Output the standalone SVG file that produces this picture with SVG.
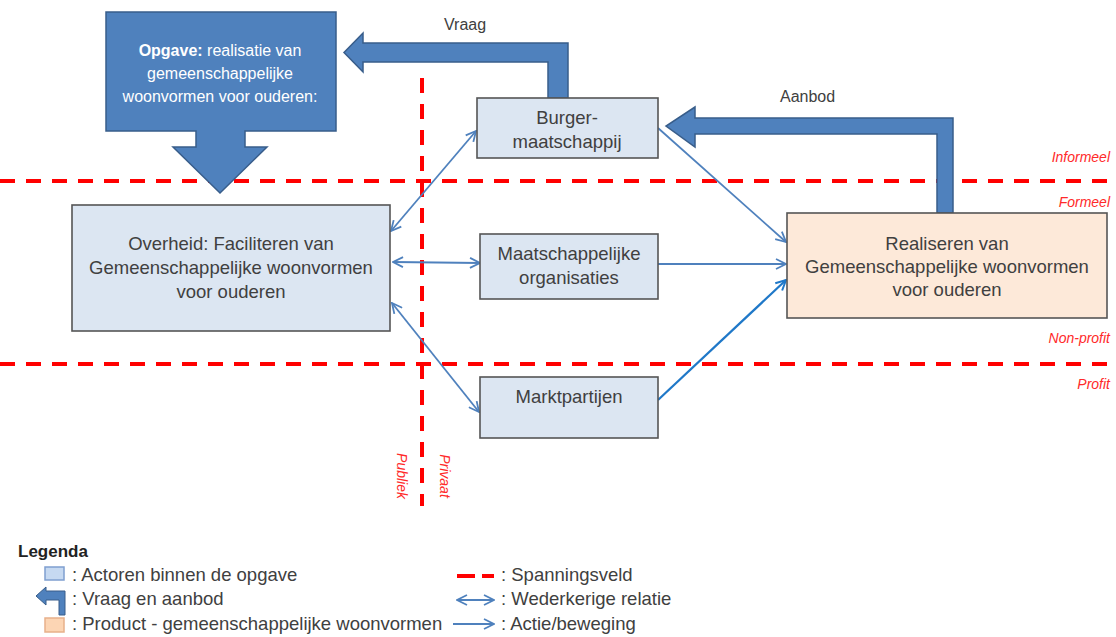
<svg xmlns="http://www.w3.org/2000/svg" width="1116" height="637" viewBox="0 0 1116 637">
  <defs>
    <style>
      text { font-family: "Liberation Sans", Arial, sans-serif; }
      .box { fill: #dce6f2; stroke: #555555; stroke-width: 1.6; }
      .prod { fill: #fde9d9; stroke: #555555; stroke-width: 1.6; }
      .lbl { font-size: 18.5px; fill: #404040; text-anchor: middle; }
      .zone { font-size: 14px; font-style: italic; fill: #ff2a2a; text-anchor: end; }
      .axis { font-size: 14px; font-style: italic; fill: #ff2a2a; text-anchor: middle; }
      .split { stroke: #ff0000; stroke-width: 4; stroke-dasharray: 15 11; fill: none; }
      .block { fill: #4f81bd; stroke: #385d8a; stroke-width: 1.5; stroke-linejoin: miter; }
      .rel { stroke: #4f81bd; stroke-width: 1.8; fill: none; }
      .act { stroke: #1f78c8; stroke-width: 2.2; fill: none; }
      .flow { font-size: 16px; fill: #404040; }
      .leg { font-size: 18.5px; fill: #404040; }
    </style>
    <marker id="open" viewBox="0 0 12 12" refX="11" refY="6" markerWidth="12" markerHeight="12" markerUnits="userSpaceOnUse" orient="auto-start-reverse">
      <path d="M1 1 L11 6 L1 11" fill="none" stroke="#4f81bd" stroke-width="1.8"/>
    </marker>
    <marker id="openAct" viewBox="0 0 12 12" refX="11" refY="6" markerWidth="12" markerHeight="12" markerUnits="userSpaceOnUse" orient="auto">
      <path d="M1 1 L11 6 L1 11" fill="none" stroke="#1f78c8" stroke-width="2"/>
    </marker>
  </defs>

  <!-- tension fields -->
  <g id="spanningsveld">
    <line class="split" x1="0" y1="181" x2="1116" y2="181"/>
    <line class="split" x1="0" y1="364" x2="1116" y2="364"/>
    <line class="split" x1="422" y1="78" x2="422" y2="506"/>
    <text class="zone" x="1110" y="162">Informeel</text>
    <text class="zone" x="1110" y="207">Formeel</text>
    <text class="zone" x="1110" y="343">Non-profit</text>
    <text class="zone" x="1110" y="389">Profit</text>
    <text class="axis" transform="translate(397 476) rotate(90)">Publiek</text>
    <text class="axis" transform="translate(440 476) rotate(90)">Privaat</text>
  </g>

  <!-- demand / supply block arrows -->
  <g id="vraag">
    <path class="block" d="M548 98 L548 62 L363 62 L363 72 L344 52.5 L363 33 L363 43 L568 43 L568 98 Z"/>
    <text class="flow" x="444" y="30">Vraag</text>
  </g>
  <g id="aanbod">
    <path class="block" d="M937 213 L937 134 L695 134 L695 147 L666 126 L695 107 L695 118 L953 118 L953 213 Z"/>
    <text class="flow" x="780" y="102">Aanbod</text>
  </g>

  <!-- task callout -->
  <g id="opgave">
    <path class="block" d="M106 12 L336 12 L336 131 L245 131 L245 147 L267 147 L220 193 L173 147 L196 147 L196 131 L106 131 Z"/>
    <text x="220" y="56" font-size="16" fill="#ffffff" text-anchor="middle"><tspan font-weight="bold">Opgave:</tspan> realisatie van</text>
    <text x="220" y="79" font-size="16" fill="#ffffff" text-anchor="middle">gemeenschappelijke</text>
    <text x="220" y="102" font-size="16" fill="#ffffff" text-anchor="middle">woonvormen voor ouderen:</text>
  </g>

  <!-- connectors -->
  <g id="connectors">
    <line class="rel" x1="391" y1="231" x2="476" y2="131" marker-start="url(#open)" marker-end="url(#open)"/>
    <line class="rel" x1="393" y1="262" x2="480" y2="263" marker-start="url(#open)" marker-end="url(#open)"/>
    <line class="rel" x1="392" y1="303" x2="479" y2="412" marker-start="url(#open)" marker-end="url(#open)"/>
    <line class="rel" x1="658" y1="128" x2="786" y2="242" marker-end="url(#open)"/>
    <line class="rel" x1="658" y1="264" x2="786" y2="264" marker-end="url(#open)"/>
    <line class="act" x1="658" y1="400" x2="786" y2="280" marker-end="url(#openAct)"/>
  </g>

  <!-- actors -->
  <g id="overheid">
    <rect class="box" x="72" y="205" width="318" height="126"/>
    <text class="lbl" x="231" y="250">Overheid: Faciliteren van</text>
    <text class="lbl" x="231" y="274">Gemeenschappelijke woonvormen</text>
    <text class="lbl" x="231" y="298">voor ouderen</text>
  </g>
  <g id="burgermaatschappij">
    <rect class="box" x="477" y="98" width="181" height="60"/>
    <text class="lbl" x="567" y="124">Burger-</text>
    <text class="lbl" x="567" y="148">maatschappij</text>
  </g>
  <g id="maatschappelijke-organisaties">
    <rect class="box" x="480" y="234" width="178" height="65"/>
    <text class="lbl" x="569" y="260">Maatschappelijke</text>
    <text class="lbl" x="569" y="284">organisaties</text>
  </g>
  <g id="marktpartijen">
    <rect class="box" x="480" y="377" width="178" height="61"/>
    <text class="lbl" x="569" y="403">Marktpartijen</text>
  </g>
  <g id="realiseren">
    <rect class="prod" x="787" y="213" width="320" height="105"/>
    <text class="lbl" x="947" y="250">Realiseren van</text>
    <text class="lbl" x="947" y="273">Gemeenschappelijke woonvormen</text>
    <text class="lbl" x="947" y="296">voor ouderen</text>
  </g>

  <!-- legend -->
  <g id="legenda">
    <text x="18" y="557" font-size="17" font-weight="bold" fill="#222222">Legenda</text>
    <rect x="45" y="567" width="19" height="13" fill="#c6d9f1" stroke="#7f9fcf" stroke-width="1.5"/>
    <text class="leg" x="72" y="581">: Actoren binnen de opgave</text>
    <path d="M36 596 L46 587 L46 591 L65 591 L65 615 L59 615 L59 600 L46 600 L46 605 Z" fill="#4f81bd" stroke="#385d8a" stroke-width="1"/>
    <text class="leg" x="72" y="605">: Vraag en aanbod</text>
    <rect x="45" y="618" width="19" height="14" fill="#fcd5b4" stroke="#e7b08a" stroke-width="1.5"/>
    <text class="leg" x="72" y="630">: Product - gemeenschappelijke woonvormen</text>

    <line x1="457" y1="576" x2="475" y2="576" stroke="#ff0000" stroke-width="4"/>
    <line x1="482" y1="576" x2="494" y2="576" stroke="#ff0000" stroke-width="4"/>
    <text class="leg" x="501" y="581">: Spanningsveld</text>
    <line class="rel" x1="457" y1="600" x2="494" y2="600" marker-start="url(#open)" marker-end="url(#open)"/>
    <text class="leg" x="501" y="605">: Wederkerige relatie</text>
    <line class="rel" x1="453" y1="624" x2="494" y2="624" marker-end="url(#open)"/>
    <text class="leg" x="501" y="630">: Actie/beweging</text>
  </g>
</svg>
